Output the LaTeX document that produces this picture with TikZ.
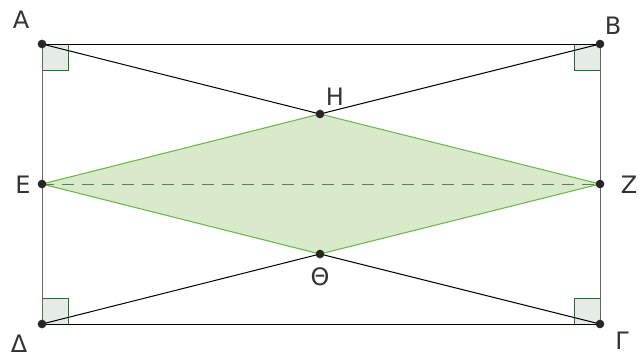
\documentclass[tikz,border=0pt]{standalone}
\usepackage{fontspec}
\setmainfont{DejaVu Sans}
\definecolor{rhfill}{RGB}{217,234,203}
\definecolor{rhline}{RGB}{106,182,74}
\definecolor{rafillc}{RGB}{229,236,229}
\definecolor{ralinec}{RGB}{40,110,40}
\definecolor{dashc}{RGB}{95,125,95}
\begin{document}
\begin{tikzpicture}[x=0.75pt,y=-0.75pt,
  pt/.style={circle,fill=black!85,inner sep=0pt,minimum size=6.5pt},
  lbl/.style={text=black!80,font=\fontsize{18}{20}\selectfont,inner sep=0pt},
  edge/.style={line width=0.75pt,black},
  vedge/.style={line width=0.75pt,black!60},
  rafill/.style={fill=rafillc},
  raline/.style={line width=0.7pt,ralinec}]
\useasboundingbox (0,0) rectangle (641,358);
\coordinate (A) at (42,44);
\coordinate (B) at (600,44);
\coordinate (D) at (42,324);
\coordinate (G) at (600,324);
\coordinate (E) at (42,184);
\coordinate (Z) at (600,184);
\coordinate (H) at (320,114);
\coordinate (T) at (320,254);
% right-angle marks
\fill[rafill] (A) rectangle ++(26,26);
\draw[raline] (42,70) -- (68,70) -- (68,44);
\fill[rafill] (B) rectangle ++(-26,26);
\draw[raline] (600,70) -- (574,70) -- (574,44);
\fill[rafill] (D) rectangle ++(26,-26);
\draw[raline] (42,298) -- (68,298) -- (68,324);
\fill[rafill] (G) rectangle ++(-26,-26);
\draw[raline] (600,298) -- (574,298) -- (574,324);
% rhombus
\filldraw[fill=rhfill,draw=rhline,line width=0.8pt]
  (E) -- (H) -- (Z) -- (T) -- cycle;
\draw[dash pattern=on 9pt off 6pt,line width=0.7pt,dashc] (E) -- (Z);
% sides
\draw[edge] (A) -- (B);
\draw[edge] (D) -- (G);
\draw[vedge] (A) -- (D);
\draw[vedge] (B) -- (G);
% diagonals
\draw[edge] (A) -- (H);
\draw[edge] (B) -- (H);
\draw[edge] (D) -- (T);
\draw[edge] (G) -- (T);
% points
\foreach \p in {A,B,D,G,E,Z,H,T} \node[pt] (n\p) at (\p) {};
% labels
\node[lbl] (lA) at (21,20) {A};
\node[lbl] (lB) at (613,26) {B};
\node[lbl] (lD) at (19,344) {Δ};
\node[lbl] (lG) at (622,341) {Γ};
\node[lbl] (lH) at (335,97) {H};
\node[lbl] (lT) at (320,277) {Θ};
\node[lbl] (lE) at (23,185) {E};
\node[lbl] (lZ) at (629,185) {Z};
\end{tikzpicture}
\end{document}
